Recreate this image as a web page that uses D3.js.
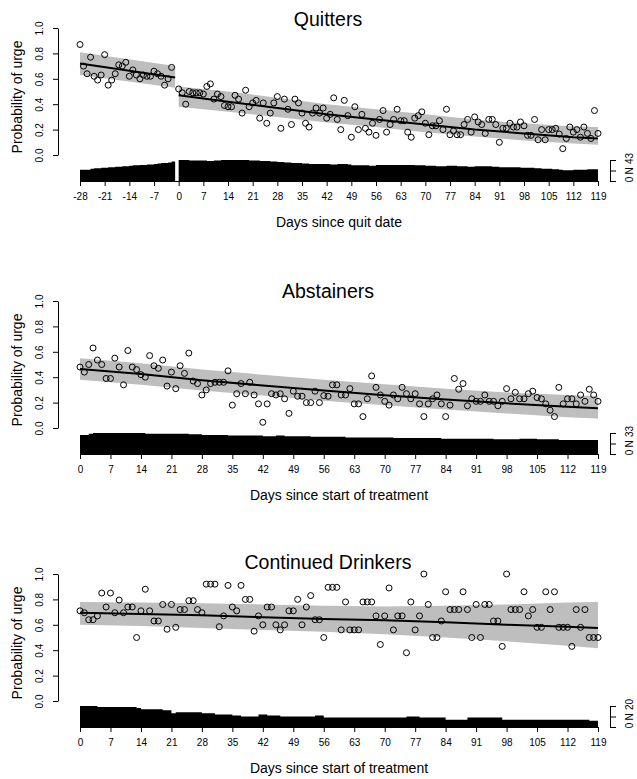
<!DOCTYPE html>
<html><head><meta charset="utf-8">
<script src="https://cdn.jsdelivr.net/npm/d3@7"></script>
<style>body{margin:0;background:#fff}svg{display:block}</style>
</head><body><svg id="c" width="637" height="779"></svg>
<script>
// ---------- DATA ----------
const panelTitles = ["Quitters", "Abstainers", "Continued Drinkers"];
const xAxisTitles = ["Days since quit date", "Days since start of treatment", "Days since start of treatment"];
const yAxisTitle = "Probability of urge";
const yTickValues = [0, 0.2, 0.4, 0.6, 0.8, 1.0];
const quitTicks = [-28,-21,-14,-7,0,7,14,21,28,35,42,49,56,63,70,77,84,91,98,105,112,119];
const treatTicks = [0,7,14,21,28,35,42,49,56,63,70,77,84,91,98,105,112,119];
const nMax = [43, 33, 20];

// Quitters: days -28..-2 (pre-quit), 0..119 (post-quit)
const quitPreProb = [0.87,0.70,0.64,0.77,0.62,0.59,0.63,0.79,0.55,0.59,0.64,0.71,0.70,0.73,0.62,0.67,0.63,0.60,0.63,0.62,0.62,0.66,0.64,0.62,0.55,0.60,0.69];
const quitPostProb = [0.52,0.49,0.40,0.50,0.49,0.49,0.49,0.48,0.54,0.56,0.44,0.48,0.46,0.39,0.38,0.38,0.47,0.44,0.33,0.51,
 0.38,0.41,0.43,0.29,0.41,0.25,0.33,0.41,0.46,0.21,0.44,0.36,0.24,0.44,0.41,0.33,0.25,0.22,0.33,0.37,
 0.33,0.37,0.29,0.32,0.45,0.28,0.20,0.43,0.31,0.14,0.38,0.20,0.32,0.21,0.18,0.25,0.155,0.28,0.35,0.18,
 0.24,0.28,0.36,0.27,0.27,0.18,0.14,0.29,0.31,0.34,0.25,0.16,0.23,0.23,0.27,0.20,0.36,0.16,0.19,0.16,
 0.16,0.24,0.28,0.18,0.30,0.26,0.24,0.17,0.28,0.28,0.24,0.10,0.21,0.21,0.25,0.22,0.22,0.26,0.23,0.155,
 0.155,0.28,0.12,0.20,0.12,0.20,0.20,0.21,0.165,0.05,0.13,0.22,0.18,0.20,0.14,0.22,0.17,0.13,0.35,0.17];
// N per day, days -28..119 (day -1 = 0)
const quitN = [23,23,23, 25,26,26,27,27, 28,28,29,29,30,30, 31,32,32,33,33,34,34, 35,36,37,37,38,40, 0,
 43,43,43,42,42,42,42, 42,41,41,42,42,43,43, 43,43,43,43,43,43,42, 42,42,41,41,41,40,40,
 39,39,38,38,37,37,37, 36,36,35,35,35,35,35, 35,34,34,35,35,35,34, 32,32,32,32,32,31,31,
 33,33,33,33,33,33,33, 33,33,33,33,32,32,32, 31,31,31,30,30,30,31, 31,31,30,30,30,29,29,
 30,30,30,30,30,29,29, 28,28,28,28,28,28,27, 27,27,27,26,26,25,25, 25,24,24,23,22,22,22,
 23,23,23,23,24,24,24, 24];
const quitPreFitDays = [-28, -1];
const quitPreFit = [0.72, 0.61];
const quitPreLo = [0.63, 0.53];
const quitPreHi = [0.81, 0.70];
const fitDays = [0,14,28,42,56,70,84,98,112,119];
const quitPostFit = [0.47,0.42,0.37,0.32,0.28,0.24,0.20,0.17,0.14,0.13];
const quitPostLo = [0.38,0.34,0.30,0.255,0.22,0.18,0.145,0.115,0.09,0.08];
const quitPostHi = [0.54,0.50,0.45,0.40,0.36,0.32,0.28,0.25,0.225,0.22];

// Abstainers: days 0..119
const abstProb = [0.48,0.44,0.50,0.63,0.535,0.50,0.39,0.39,0.55,0.48,0.34,0.61,0.48,0.46,0.42,0.40,0.57,0.49,0.47,0.535,
 0.33,0.44,0.31,0.49,0.43,0.59,0.37,0.35,0.26,0.30,0.35,0.36,0.36,0.36,0.45,0.18,0.27,0.35,0.27,0.36,
 0.26,0.19,0.045,0.19,0.27,0.26,0.27,0.23,0.115,0.29,0.25,0.25,0.20,0.20,0.29,0.20,0.255,0.25,0.34,0.34,
 0.26,0.26,0.31,0.19,0.19,0.09,0.23,0.41,0.32,0.26,0.21,0.18,0.26,0.23,0.32,0.27,0.23,0.27,0.19,0.09,
 0.19,0.23,0.26,0.19,0.09,0.18,0.39,0.305,0.35,0.175,0.23,0.21,0.21,0.26,0.21,0.21,0.175,0.21,0.31,0.23,
 0.28,0.23,0.23,0.27,0.29,0.24,0.23,0.19,0.14,0.09,0.32,0.19,0.23,0.23,0.19,0.26,0.21,0.305,0.26,0.21];
const abstN = [30,30,32,33,33,33,33, 33,33,33,33,33,33,33, 33,32,32,32,32,32,32, 32,32,32,32,31,31,31,
 30,30,30,30,30,30,29, 29,29,29,29,29,29,29, 28,28,28,29,29,28,28, 28,28,28,28,27,27,27,
 27,27,27,27,27,26,26, 26,26,26,26,26,26,26, 26,26,25,25,25,25,25, 25,25,25,25,25,25,24,
 24,24,24,24,24,24,24, 24,24,24,24,23,23,23, 23,23,23,24,24,24,24, 23,23,23,23,23,22,22,
 22,22,22,22,22,22,22, 22];
const abstFit = [0.465,0.425,0.376,0.335,0.295,0.258,0.225,0.194,0.167,0.155];
const abstLo = [0.38,0.34,0.295,0.255,0.215,0.18,0.145,0.115,0.085,0.075];
const abstHi = [0.55,0.51,0.46,0.42,0.38,0.345,0.31,0.28,0.26,0.25];

// Continued Drinkers: days 0..119
const drinkProb = [0.71,0.695,0.64,0.64,0.67,0.85,0.74,0.85,0.695,0.795,0.695,0.74,0.74,0.50,0.71,0.88,0.71,0.63,0.63,0.76,
 0.565,0.76,0.58,0.72,0.72,0.79,0.79,0.72,0.695,0.92,0.92,0.92,0.585,0.67,0.91,0.74,0.71,0.91,0.80,0.80,
 0.55,0.67,0.60,0.74,0.74,0.60,0.56,0.60,0.71,0.71,0.80,0.60,0.74,0.83,0.64,0.64,0.50,0.895,0.895,0.895,
 0.56,0.78,0.56,0.56,0.56,0.78,0.78,0.78,0.67,0.445,0.67,0.89,0.56,0.67,0.67,0.38,0.78,0.56,0.67,1.0,
 0.76,0.50,0.50,0.63,0.86,0.72,0.72,0.72,0.86,0.72,0.50,0.76,0.50,0.76,0.76,0.63,0.63,0.43,1.0,0.72,
 0.72,0.72,0.86,0.67,0.72,0.58,0.58,0.86,0.72,0.86,0.58,0.58,0.58,0.43,0.72,0.58,0.72,0.50,0.50,0.50];
const drinkN = [20,20,20,20,19,19,19, 19,19,19,19,19,19,18, 17,17,17,17,17,16,16, 13,14,14,14,14,14,14,
 13,13,13,12,12,12,12, 11,11,10,10,10,10,12, 12,11,11,11,10,10,10, 10,10,10,10,10,11,11,
 9,9,9,9,9,9,9, 9,9,9,9,9,9,9, 9,9,9,9,9,10,10, 10,9,9,9,9,9,9,
 7,7,7,7,7,9,9, 9,9,9,9,9,9,7, 7,7,7,7,7,7,7, 7,7,7,7,7,7,7,
 7,7,7,7,7,6,6, 6];
const drinkFit = [0.695,0.685,0.675,0.66,0.645,0.635,0.62,0.60,0.585,0.575];
const drinkLo = [0.60,0.59,0.575,0.56,0.545,0.525,0.50,0.47,0.435,0.415];
const drinkHi = [0.78,0.775,0.77,0.76,0.75,0.745,0.75,0.76,0.775,0.78];

// ---------- BUILD ----------
const preDays = d3.range(-28, -1);
const postDays = d3.range(0, 120);
const quitDaysAll = d3.range(-28, 120);

const panels = [
  { title: panelTitles[0], xTitle: xAxisTitles[0], x0: -28, ticks: quitTicks, nMax: nMax[0],
    points: preDays.map((d,i)=>({d, p: quitPreProb[i]})).concat(postDays.map((d,i)=>({d, p: quitPostProb[i]}))),
    counts: quitDaysAll.map((d,i)=>({d, n: quitN[i]})),
    segments: [
      {days: quitPreFitDays, fit: quitPreFit, lo: quitPreLo, hi: quitPreHi},
      {days: fitDays, fit: quitPostFit, lo: quitPostLo, hi: quitPostHi}] },
  { title: panelTitles[1], xTitle: xAxisTitles[1], x0: 0, ticks: treatTicks, nMax: nMax[1],
    points: postDays.map((d,i)=>({d, p: abstProb[i]})),
    counts: postDays.map((d,i)=>({d, n: abstN[i]})),
    segments: [{days: fitDays, fit: abstFit, lo: abstLo, hi: abstHi}] },
  { title: panelTitles[2], xTitle: xAxisTitles[2], x0: 0, ticks: treatTicks, nMax: nMax[2],
    points: postDays.map((d,i)=>({d, p: drinkProb[i]})),
    counts: postDays.map((d,i)=>({d, n: drinkN[i]})),
    segments: [{days: fitDays, fit: drinkFit, lo: drinkLo, hi: drinkHi}] }
];

const FONT = '"Liberation Sans", Arial, Helvetica, sans-serif';
const svg = d3.select("#c").style("font-family", FONT);
const offsets = [0, 273, 546];
const titleBase = [26, 298, 569];

panels.forEach((P, k) => {
  const off = offsets[k];
  const x = d3.scaleLinear().domain([P.x0, 119]).range([80, 598]);
  const y = d3.scaleLinear().domain([0, 1]).range([155 + off, 28 + off]);
  const base = 181 + off;
  const yN = d3.scaleLinear().domain([0, P.nMax]).range([base, base - 21]);
  const g = svg.append("g");

  g.append("text").attr("x", 328).attr("y", titleBase[k]).attr("text-anchor", "middle")
    .attr("font-size", 19.5).attr("fill", "#000").text(P.title);

  // confidence bands
  P.segments.forEach(s => {
    const pts = s.days.map((d, i) => ({d, f: s.fit[i], lo: s.lo[i], hi: s.hi[i]}));
    g.append("path").datum(pts)
      .attr("d", d3.area().x(p => x(p.d)).y0(p => y(p.lo)).y1(p => y(p.hi)))
      .attr("fill", "#bebebe");
  });
  // points
  g.append("g").selectAll("circle").data(P.points).join("circle")
    .attr("cx", p => x(p.d)).attr("cy", p => y(p.p)).attr("r", 3)
    .attr("fill", "none").attr("stroke", "#000").attr("stroke-width", 1);
  // fitted lines
  P.segments.forEach(s => {
    const pts = s.days.map((d, i) => ({d, f: s.fit[i]}));
    g.append("path").datum(pts)
      .attr("d", d3.line().x(p => x(p.d)).y(p => y(p.f)))
      .attr("fill", "none").attr("stroke", "#000").attr("stroke-width", 2);
  });
  // count bars (step area)
  g.append("path").datum(P.counts)
    .attr("d", d3.area().curve(d3.curveStepAfter).x(c => x(c.d)).y0(base).y1(c => yN(c.n)))
    .attr("fill", "#000");

  // x axis
  const xa = g.append("g").attr("transform", `translate(0,${base})`)
    .call(d3.axisBottom(x).tickValues(P.ticks).tickFormat(d => String(d))
      .tickSize(5).tickSizeOuter(0).tickPadding(7));
  xa.attr("font-family", FONT).attr("font-size", 10);
  xa.selectAll("line,path").attr("stroke", "#000");

  // y axis
  const ya = g.append("g").attr("transform", "translate(58,0)")
    .call(d3.axisLeft(y).tickValues(yTickValues).tickFormat(d3.format(".1f"))
      .tickSize(5).tickSizeOuter(0));
  ya.attr("font-family", FONT).attr("font-size", 10);
  ya.selectAll("line,path").attr("stroke", "#000");
  ya.selectAll("text").attr("transform", "rotate(-90)").attr("x", 0).attr("y", -15)
    .attr("dy", 0).attr("text-anchor", "middle");

  // axis titles
  g.append("text").attr("x", 339).attr("y", 227 + off).attr("text-anchor", "middle")
    .attr("font-size", 14).attr("fill", "#000").text(P.xTitle);
  g.append("text").attr("transform", `translate(22,${97 + off}) rotate(-90)`)
    .attr("text-anchor", "middle").attr("font-size", 14).attr("fill", "#000").text(yAxisTitle);

  // N bracket (right axis)
  const ra = g.append("g").attr("transform", "translate(610,0)")
    .call(d3.axisRight(yN).tickValues([0, P.nMax / 2, P.nMax])
      .tickFormat((d, i) => ["0", "N", String(P.nMax)][i]).tickSize(6).tickSizeOuter(0));
  ra.attr("font-family", FONT).attr("font-size", 10);
  ra.selectAll("line,path").attr("stroke", "#000");
  ra.selectAll("text").attr("transform", "rotate(-90)").attr("x", (d, i) => i === 2 ? 2 : (i === 0 ? 2 : 0)).attr("y", 23)
    .attr("dy", 0).attr("text-anchor", "middle");
});
</script></body></html>
